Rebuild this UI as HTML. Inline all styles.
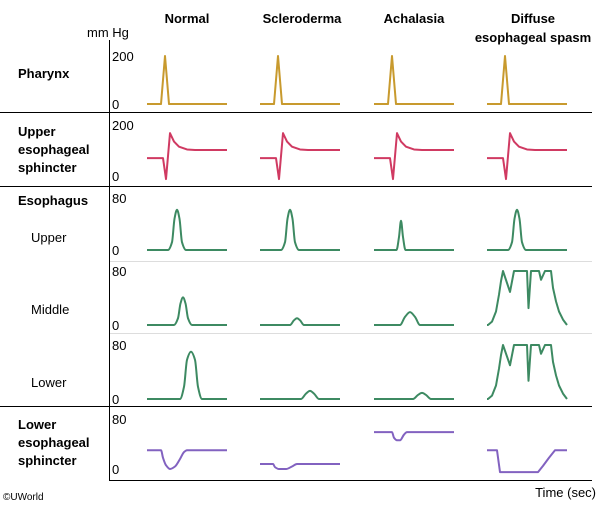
<!DOCTYPE html>
<html><head><meta charset="utf-8"><style>
body{margin:0;background:#fff}
svg{display:block;font-family:"Liberation Sans",Arial,sans-serif}
.h{font-weight:bold;font-size:13px}
.t{font-size:13px}
</style></head><body>
<svg id="c" width="605" height="506" viewBox="0 0 605 506">
<g>
<text class="h" x="187" y="23" text-anchor="middle">Normal</text>
<text class="h" x="302" y="23" text-anchor="middle">Scleroderma</text>
<text class="h" x="414" y="23" text-anchor="middle">Achalasia</text>
<text class="h" x="533" y="23" text-anchor="middle">Diffuse</text>
<text class="h" x="533" y="42" text-anchor="middle">esophageal spasm</text>
<text class="t" x="87" y="37">mm Hg</text>
</g>
<g>
<text class="h" x="18" y="78">Pharynx</text>
<text class="h" x="18" y="136">Upper</text>
<text class="h" x="18" y="154">esophageal</text>
<text class="h" x="18" y="172">sphincter</text>
<text class="h" x="18" y="205">Esophagus</text>
<text class="t" x="31" y="242">Upper</text>
<text class="t" x="31" y="314">Middle</text>
<text class="t" x="31" y="387">Lower</text>
<text class="h" x="18" y="429">Lower</text>
<text class="h" x="18" y="447">esophageal</text>
<text class="h" x="18" y="465">sphincter</text>
</g>
<g>
<line x1="0" y1="112.5" x2="592" y2="112.5" stroke="#000"/>
<line x1="0" y1="186.5" x2="592" y2="186.5" stroke="#000"/>
<line x1="110" y1="261.5" x2="592" y2="261.5" stroke="#ddd"/>
<line x1="110" y1="333.5" x2="592" y2="333.5" stroke="#ddd"/>
<line x1="0" y1="406.5" x2="592" y2="406.5" stroke="#000"/>
<line x1="110" y1="480.5" x2="592" y2="480.5" stroke="#000"/>
<line x1="109.5" y1="40" x2="109.5" y2="481" stroke="#000"/>
</g>
<text class="t" x="596" y="497" text-anchor="end">Time (sec)</text>
<text x="3" y="500" font-size="10">©UWorld</text>
<g id="ticks"></g>
<g id="traces"></g>
</svg>
<script>
// panels: tick labels and value range
const panelNames=["pharynx","ues","upper","middle","lower","les"];
const panelMax=[200,200,80,80,80,80];
const panelTop=[56,125,198,271,345,419];
const panelZero=[104,176,250,325,399,469];
const panelColor=["#c89a2e","#d03a62","#3d8a62","#3d8a62","#3d8a62","#8262c0"];
const colStart=[147,260,374,487];
const colNames=["normal","scleroderma","achalasia","diffuse-spasm"];

// pharynx
const pharT=[0,14,18,22,80]; const pharV=[0,0,200,0,0];
// UES
const uesT=[0,16,19,23,27,32,40,48,80]; const uesV=[70,70,-12,168,135,115,104,102,102];
// esophagus upper
const upNT=[0,21,25,27.5,30,32.5,35,39,80]; const upNV=[0,0,12,48,62,48,12,0,0];
const upAT=[0,22.5,25,27,29,31.5,80]; const upAV=[0,0,20,45,20,0,0];
// middle
const midNT=[0,27,31,33.5,36,38.5,41,45,80]; const midNV=[0,0,10,32,41,32,10,0,0];
const midST=[0,30,34,37,40,44,80]; const midSV=[0,0,7,10,7,0,0];
const midAT=[0,26,31,36,41,46,80]; const midAV=[0,0,12,19,12,0,0];
const desMT=[0,1,5,9,12,14,16,23,27,40,41.5,44,52,54,58,64,66,69,72,76,80];
const desMV=[0,0,5,20,45,65,80,49,80,80,25,80,80,67,80,80,55,35,20,8,0];
// lower
const lowNT=[0,33,37,40,44,48,51,55,80]; const lowNV=[0,0,18,58,70,58,18,0,0];
const lowST=[0,41,46,50,54,59,80]; const lowSV=[0,0,8,12,8,0,0];
const lowAT=[0,39,44,48,52,57,80]; const lowAV=[0,0,6,9,6,0,0];
const desLT=[0,1,5,9,12,14,16,23,27,40,41.5,44,52,54,58,64,66,69,72,76,80];
const desLV=[0,0,5,20,45,65,80,50,80,80,27,80,80,67,80,80,55,35,20,8,0];
// LES
const lesNT=[0,14,16,19,23,28,33,37,40,80]; const lesNV=[30,30,18,6,0,4,16,27,30,30];
const lesST=[0,13,15,19,26,32,37,80]; const lesSV=[8,8,3,0,0,4,8,8];
const lesAT=[0,18,20,23,26,30,33,80]; const lesAV=[59,59,50,46,46,55,59,59];
const lesDT=[0,10,13,51,56,62,68,80]; const lesDV=[30,30,-5,-5,5,18,30,30];

const traces=[
 [0,0,pharT,pharV,false],[0,1,pharT,pharV,false],[0,2,pharT,pharV,false],[0,3,pharT,pharV,false],
 [1,0,uesT,uesV,false],[1,1,uesT,uesV,false],[1,2,uesT,uesV,false],[1,3,uesT,uesV,false],
 [2,0,upNT,upNV,true],[2,1,upNT,upNV,true],[2,2,upAT,upAV,true],[2,3,upNT,upNV,true],
 [3,0,midNT,midNV,true],[3,1,midST,midSV,true],[3,2,midAT,midAV,true],[3,3,desMT,desMV,false],
 [4,0,lowNT,lowNV,true],[4,1,lowST,lowSV,true],[4,2,lowAT,lowAV,true],[4,3,desLT,desLV,false],
 [5,0,lesNT,lesNV,true],[5,1,lesST,lesSV,true],[5,2,lesAT,lesAV,true],[5,3,lesDT,lesDV,false]
];
const NS="http://www.w3.org/2000/svg";
function yScale(p,v){return panelZero[p]-(v/panelMax[p])*(panelZero[p]-panelTop[p]);}
function xScale(c,t){return colStart[c]+t;}
const tg=document.getElementById('ticks');
panelNames.forEach((n,p)=>{
 [[panelMax[p],panelTop[p]],[0,panelZero[p]]].forEach(([v,y],k)=>{
  const t=document.createElementNS(NS,'text');
  t.setAttribute('x',112);t.setAttribute('y',y+5);t.setAttribute('font-size','13');
  t.textContent=v;
  
  
  tg.appendChild(t);
 });
});
function monotonePath(pts){
 const n=pts.length,dx=[],s=[],m=[];
 for(let i=0;i<n-1;i++){dx[i]=pts[i+1][0]-pts[i][0];s[i]=(pts[i+1][1]-pts[i][1])/dx[i];}
 m[0]=s[0];m[n-1]=s[n-2];
 for(let i=1;i<n-1;i++){
  if(s[i-1]*s[i]<=0)m[i]=0;
  else{const w1=2*dx[i]+dx[i-1],w2=dx[i]+2*dx[i-1];m[i]=(w1+w2)/(w1/s[i-1]+w2/s[i]);}
 }
 if(s[0]===0)m[0]=0; if(s[n-2]===0)m[n-1]=0;
 let d='M'+pts[0][0]+','+pts[0][1];
 for(let i=0;i<n-1;i++){
  const h=dx[i]/3;
  d+=' C'+(pts[i][0]+h)+','+(pts[i][1]+m[i]*h)+' '+(pts[i+1][0]-h)+','+(pts[i+1][1]-m[i+1]*h)+' '+pts[i+1][0]+','+pts[i+1][1];
 }
 return d;
}
const g=document.getElementById('traces');
traces.forEach(([p,c,T,V,smooth])=>{
 const pts=T.map((t,i)=>[xScale(c,t),yScale(p,V[i])]);
 let d;
 if(smooth) d=monotonePath(pts);
 else d='M'+pts.map(q=>q[0]+','+q[1]).join(' L');
 const path=document.createElementNS(NS,'path');
 path.setAttribute('d',d);path.setAttribute('fill','none');
 path.setAttribute('stroke',panelColor[p]);path.setAttribute('stroke-width','2');
 path.setAttribute('stroke-linejoin','round');
 
 
 g.appendChild(path);
});
</script>
</body></html>
